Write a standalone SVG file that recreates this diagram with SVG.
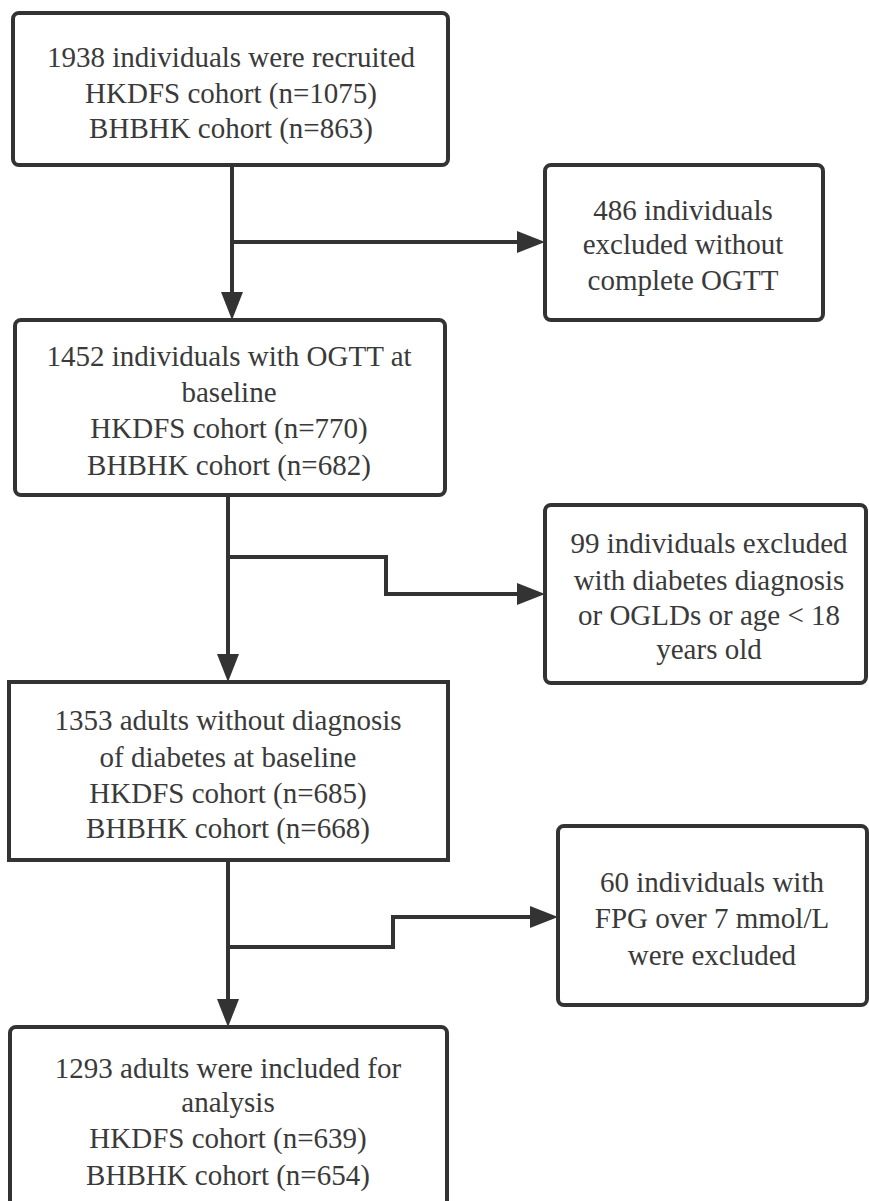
<svg xmlns="http://www.w3.org/2000/svg" width="869" height="1201" viewBox="0 0 869 1201">
<defs>
<marker id="ah" markerUnits="userSpaceOnUse" markerWidth="28" markerHeight="22" refX="8" refY="11" orient="auto">
<path d="M0,0 L28,11 L0,22 z" fill="#333"/>
</marker>
</defs>
<rect width="869" height="1201" fill="#fff"/>
<g id="connectors" fill="none" stroke="#333" stroke-width="4">
<path d="M232 165 V300" marker-end="url(#ah)"/>
<path d="M232 242 H525" marker-end="url(#ah)"/>
<path d="M228 495 V662" marker-end="url(#ah)"/>
<path d="M228 557 H386 V594 H525" marker-end="url(#ah)"/>
<path d="M228 860 V1007" marker-end="url(#ah)"/>
<path d="M228 947 H393 V917 H538" marker-end="url(#ah)"/>
</g>
<g id="nodes">
<g id="boxes" fill="#fff" stroke="#333" stroke-width="4">
<rect id="b1" x="13" y="13" width="435" height="152" rx="6"/>
<rect id="b2" x="545" y="165" width="278" height="155" rx="6"/>
<rect id="b3" x="15" y="320" width="430" height="175" rx="6"/>
<rect id="b4" x="545" y="505" width="321" height="178" rx="6"/>
<rect id="b5" x="9" y="682" width="439" height="178"/>
<rect id="b6" x="558" y="826" width="309" height="179" rx="6"/>
<rect id="b7" x="10" y="1027" width="437" height="200" rx="6"/>
</g>
<g id="labels" font-family="Liberation Serif" font-size="29" fill="#3a3a3a" text-anchor="middle">
<g id="n1">
<text x="231" y="67">1938 individuals were recruited</text>
<text x="231" y="102.5">HKDFS cohort (n=1075)</text>
<text x="231" y="138">BHBHK cohort (n=863)</text>
</g>
<g id="n2">
<text x="683" y="220">486 individuals</text>
<text x="683" y="254">excluded without</text>
<text x="683" y="290">complete OGTT</text>
</g>
<g id="n3">
<text x="229" y="366">1452 individuals with OGTT at</text>
<text x="229" y="401.5">baseline</text>
<text x="229" y="438">HKDFS cohort (n=770)</text>
<text x="229" y="475">BHBHK cohort (n=682)</text>
</g>
<g id="n4">
<text x="709" y="553">99 individuals excluded</text>
<text x="709" y="590">with diabetes diagnosis</text>
<text x="709" y="625">or OGLDs or age &lt; 18</text>
<text x="709" y="659">years old</text>
</g>
<g id="n5">
<text x="228" y="730">1353 adults without diagnosis</text>
<text x="228" y="767">of diabetes at baseline</text>
<text x="228" y="803">HKDFS cohort (n=685)</text>
<text x="228" y="838">BHBHK cohort (n=668)</text>
</g>
<g id="n6">
<text x="712" y="892">60 individuals with</text>
<text x="712" y="928">FPG over 7 mmol/L</text>
<text x="712" y="965">were excluded</text>
</g>
<g id="n7">
<text x="228" y="1078">1293 adults were included for</text>
<text x="228" y="1112">analysis</text>
<text x="228" y="1148">HKDFS cohort (n=639)</text>
<text x="228" y="1185">BHBHK cohort (n=654)</text>
</g>
</g>
</g>
</svg>
